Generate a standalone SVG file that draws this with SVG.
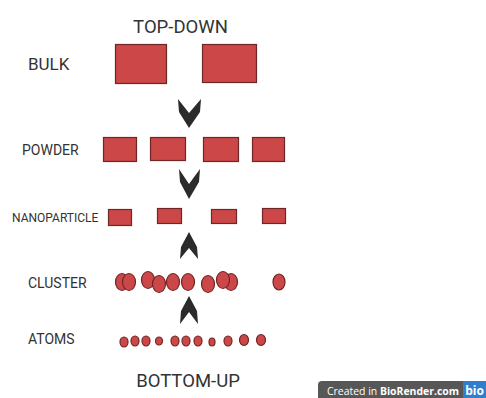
<svg xmlns="http://www.w3.org/2000/svg" width="486" height="398" viewBox="0 0 486 398">
<style>
.lbl{font-family:Roboto,"Liberation Sans",sans-serif;fill:#333;}
.blk{fill:#cc4747;stroke:#6e2626;stroke-width:1.2;}
.arr{fill:#2b2b2b;}
</style>
<rect width="486" height="398" fill="#fff"/>
<g id="title-top"><text class="lbl" x="180.5" y="33" font-size="18.5" text-anchor="middle">TOP-DOWN</text></g>
<g id="title-bottom"><text class="lbl" x="188" y="387" font-size="18.5" text-anchor="middle">BOTTOM-UP</text></g>

<g id="bulk">
<text class="lbl" x="28" y="70" font-size="17">BULK</text>
<rect class="blk" x="115.5" y="44.5" width="51" height="39"/>
<rect class="blk" x="202.5" y="44.5" width="54" height="38"/>
</g>

<g id="powder">
<text class="lbl" x="22" y="155" font-size="14">POWDER</text>
<rect class="blk" x="103.5" y="137.5" width="33" height="24"/>
<rect class="blk" x="150.5" y="137.5" width="35" height="23"/>
<rect class="blk" x="203.5" y="137.5" width="35" height="24"/>
<rect class="blk" x="252.5" y="137.5" width="32" height="24"/>
</g>

<g id="nanoparticle">
<text class="lbl" x="12" y="222" font-size="12">NANOPARTICLE</text>
<rect class="blk" x="108.5" y="209.5" width="23" height="16"/>
<rect class="blk" x="157.5" y="208.5" width="24" height="15"/>
<rect class="blk" x="211.5" y="209.5" width="25" height="14"/>
<rect class="blk" x="262.5" y="208.5" width="23" height="15"/>
</g>

<g id="cluster">
<text class="lbl" x="28" y="288" font-size="14">CLUSTER</text>
<ellipse class="blk" cx="122" cy="282" rx="6.5" ry="8.5"/>
<ellipse class="blk" cx="129" cy="282" rx="6.5" ry="8.5"/>
<ellipse class="blk" cx="148" cy="280" rx="6.5" ry="8.5"/>
<ellipse class="blk" cx="159" cy="284" rx="6.5" ry="8.5"/>
<ellipse class="blk" cx="173" cy="282" rx="6.5" ry="8.5"/>
<ellipse class="blk" cx="188" cy="282" rx="6.5" ry="8.5"/>
<ellipse class="blk" cx="208" cy="284" rx="6.5" ry="8.5"/>
<ellipse class="blk" cx="231" cy="282" rx="6.5" ry="8.5"/>
<ellipse class="blk" cx="223" cy="280" rx="6.5" ry="8.5"/>
<ellipse class="blk" cx="279" cy="282" rx="6" ry="8"/>
</g>

<g id="atoms">
<text class="lbl" x="28" y="344" font-size="14">ATOMS</text>
<ellipse class="blk" cx="124" cy="342" rx="4" ry="5"/>
<ellipse class="blk" cx="135" cy="341" rx="4" ry="5"/>
<ellipse class="blk" cx="146" cy="341" rx="4" ry="5"/>
<ellipse class="blk" cx="159" cy="341" rx="3.5" ry="4"/>
<ellipse class="blk" cx="175" cy="341" rx="4" ry="5"/>
<ellipse class="blk" cx="186" cy="341" rx="4" ry="5"/>
<ellipse class="blk" cx="198" cy="341" rx="4" ry="5"/>
<ellipse class="blk" cx="212" cy="342" rx="3" ry="4"/>
<ellipse class="blk" cx="228" cy="341" rx="4" ry="5"/>
<ellipse class="blk" cx="244" cy="340" rx="4.5" ry="5.5"/>
<ellipse class="blk" cx="261" cy="340" rx="4.5" ry="5.5"/>
</g>

<g id="connectors">
<polygon class="arr" points="178,99 189,113 201,99 200,112 189,128 179,112"/>
<polygon class="arr" points="179,169 189,184 200,169 199,182 189,199 180,182"/>
<polygon class="arr" points="189,232 197,247 198,259 189,248 180,259 181,247"/>
<polygon class="arr" points="189,296 197,311 198,324 189,312 180,324 181,311"/>
</g>

<g id="badge">
<path d="M318,398 V385 Q318,381 322,381 H463 V398 Z" fill="#575757"/>
<rect x="463" y="381" width="23" height="17" fill="#2f7fd0"/>
<text x="327" y="395" font-family="'Source Sans Pro','Open Sans','Liberation Sans',sans-serif" font-size="11" fill="#fff" textLength="132" lengthAdjust="spacingAndGlyphs">Created in <tspan font-weight="bold">BioRender.com</tspan></text>
<text x="474.5" y="395" font-family="'Open Sans','Liberation Sans',sans-serif" font-size="12" font-weight="bold" fill="#fff" text-anchor="middle">bio</text>
</g>
</svg>
